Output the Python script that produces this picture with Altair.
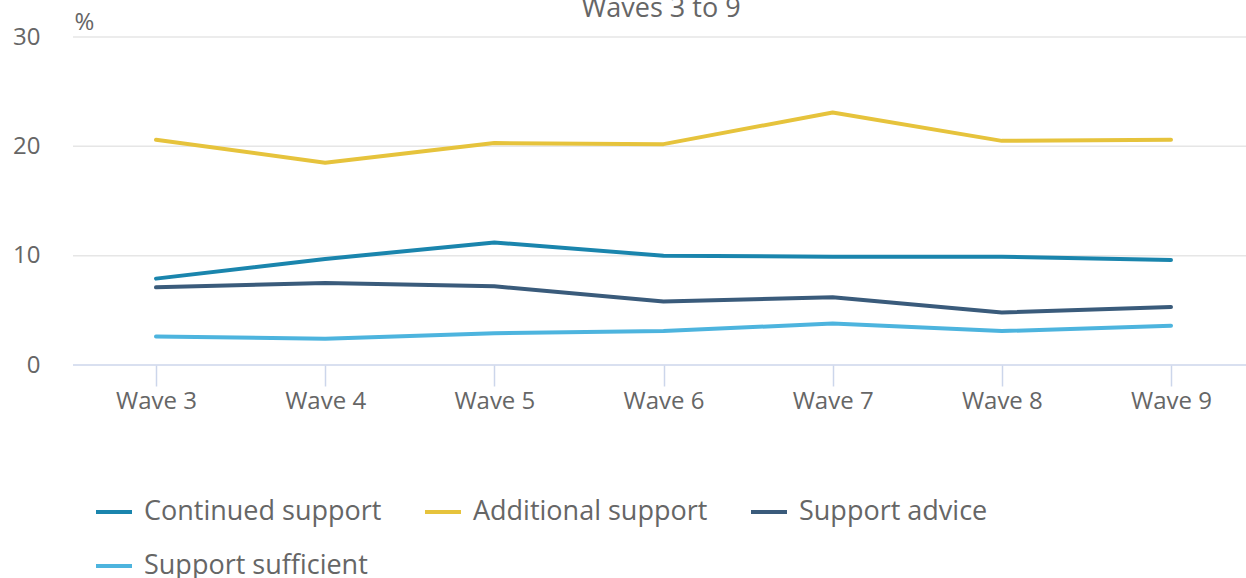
import altair as alt
import pandas as pd

waves = ["Wave 3", "Wave 4", "Wave 5", "Wave 6", "Wave 7", "Wave 8", "Wave 9"]
continued_support = [7.9, 9.7, 11.2, 10.0, 9.9, 9.9, 9.6]
additional_support = [20.6, 18.5, 20.3, 20.2, 23.1, 20.5, 20.6]
support_advice = [7.1, 7.5, 7.2, 5.8, 6.2, 4.8, 5.3]
support_sufficient = [2.6, 2.4, 2.9, 3.1, 3.8, 3.1, 3.6]

series_names = ["Continued support", "Additional support", "Support advice", "Support sufficient"]
series_values = [continued_support, additional_support, support_advice, support_sufficient]
series_colors = ["#1a85ad", "#e6c33c", "#3a5b7b", "#4db4de"]

grid_values = [10, 20, 30]
baseline_value = [0]
chart_title = ["Waves 3 to 9"]

rows = []
for name, vals in zip(series_names, series_values):
    for w, v in zip(waves, vals):
        rows.append({"wave": w, "value": v, "series": name})
df = pd.DataFrame(rows)

FONT = "Open Sans"
GREY = "#666666"
W, H = 1173, 328

y_scale = alt.Scale(domain=[0, 30], nice=False)

grid = alt.Chart(pd.DataFrame({"v": grid_values})).mark_rule(
    color="#e6e6e6", strokeWidth=1.5
).encode(y=alt.Y("v:Q", scale=y_scale), x=alt.value(0), x2=alt.value(W))

base = alt.Chart(pd.DataFrame({"v": baseline_value})).mark_rule(
    color="#ccd6eb", strokeWidth=1.5
).encode(y=alt.Y("v:Q", scale=y_scale), x=alt.value(0), x2=alt.value(W))

lines = alt.Chart(df).mark_line(strokeWidth=4, strokeCap="round", strokeJoin="round").encode(
    x=alt.X("wave:N", sort=waves,
            scale=alt.Scale(type="point", range=[83, 1098], padding=0),
            axis=alt.Axis(title=None, labelAngle=0, labelFontSize=24, labelColor=GREY,
                          labelFont=FONT, labelPadding=3, domain=False,
                          tickColor="#ccd6eb", tickSize=21, tickWidth=1.5, grid=False,
                          labelBaseline="top")),
    y=alt.Y("value:Q", scale=y_scale,
            axis=alt.Axis(values=[0, 10, 20, 30], title="%", titleAngle=0, titleX=1, titleY=-8,
                          titleAlign="left", titleBaseline="alphabetic", titleFontSize=24,
                          titleFontWeight="normal", titleColor=GREY, titleFont=FONT,
                          labelFontSize=24, labelColor=GREY, labelFont=FONT, labelPadding=33,
                          domain=False, ticks=False, grid=False)),
    color=alt.Color("series:N", sort=series_names,
                    scale=alt.Scale(domain=series_names, range=series_colors),
                    legend=alt.Legend(title=None, orient="none", legendX=21, legendY=455,
                                      direction="horizontal", columns=3, columnPadding=35,
                                      rowPadding=21, symbolType="stroke", symbolSize=1296,
                                      symbolStrokeWidth=4, labelFontSize=27, labelColor=GREY,
                                      labelFont=FONT, labelOffset=10, padding=0,
                                      labelLimit=400)),
)

title = alt.Chart(pd.DataFrame({"t": chart_title})).mark_text(
    font=FONT, fontSize=27, color=GREY, align="center", baseline="alphabetic"
).encode(text="t:N", x=alt.value(588), y=alt.value(-20))

chart = alt.layer(grid, base, lines, title).properties(
    width=W,
    height=H,
    autosize=alt.AutoSizeParams(type="none"),
    padding={"left": 73, "top": 37, "right": 0, "bottom": 213},
).configure_view(strokeWidth=0)

chart.save("out.html", embed_options={"renderer": "svg", "actions": False})
